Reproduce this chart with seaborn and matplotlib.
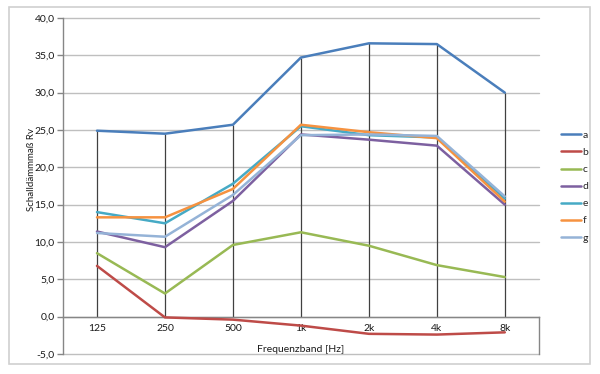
import pandas as pd
import matplotlib.pyplot as plt
import numpy as np
import seaborn as sns
from matplotlib.ticker import FuncFormatter, MultipleLocator
from matplotlib.patches import Rectangle

sns.set_theme(context="paper", style="white")
plt.rcParams['font.family'] = ['Lato', 'DejaVu Sans']

freq = ["125", "250", "500", "1k", "2k", "4k", "8k"]
series = ["a", "b", "c", "d", "e", "f", "g"]
a = [24.9, 24.5, 25.7, 34.7, 36.6, 36.5, 30.0]
b = [6.8, -0.1, -0.4, -1.2, -2.3, -2.4, -2.1]
c = [8.5, 3.1, 9.6, 11.3, 9.5, 6.9, 5.3]
d = [11.4, 9.3, 15.5, 24.4, 23.7, 22.9, 15.0]
e = [14.0, 12.5, 17.8, 25.5, 24.3, 24.0, 15.8]
f = [13.3, 13.3, 17.1, 25.7, 24.7, 23.9, 15.4]
g = [11.2, 10.7, 16.3, 24.3, 24.4, 24.2, 16.1]
colors = ["#4A7EBB", "#BE4B48", "#98B954", "#7D60A0", "#46AAC5", "#F69240", "#95B3D7"]

values = [a, b, c, d, e, f, g]
df = pd.DataFrame({
    "Frequenzband": freq * len(series),
    "Rv": np.concatenate(values),
    "Reihe": np.repeat(series, len(freq)),
})

fig = plt.figure(figsize=(6, 3.74), dpi=100)
ax = fig.add_axes([0.105, 0.0535, 0.793, 0.8985])

# drop lines from the top curve down to the 0 axis
ax.vlines(range(len(freq)), 0, np.max(values, axis=0), color="#404040", lw=0.9, zorder=1)

sns.lineplot(data=df, x="Frequenzband", y="Rv", hue="Reihe", palette=colors,
             sort=False, lw=1.8, ax=ax, zorder=3)

ax.set_xlim(-0.5, len(freq) - 0.5)
ax.set_ylim(-5, 40)
ax.yaxis.set_major_locator(MultipleLocator(5))
ax.yaxis.set_major_formatter(FuncFormatter(lambda v, p: f"{v:.1f}".replace(".", ",")))
ax.grid(axis="y", color="#BFBFBF", lw=1)
ax.set_axisbelow(True)
for gl in ax.get_ygridlines():
    gl.set_clip_on(False)

ax.spines["top"].set_visible(False)
ax.spines["bottom"].set_position(("data", 0))
ax.spines["right"].set_bounds(-5, 0)
for s in ["left", "bottom", "right"]:
    ax.spines[s].set_color("#868686")
    ax.spines[s].set_linewidth(1)

ax.tick_params(axis="x", length=0, pad=5, labelsize=7.5, labelcolor="#1a1a1a")
ax.tick_params(axis="y", length=4, width=1, color="#868686", direction="out", left=True,
               pad=2, labelsize=7.5, labelcolor="#1a1a1a")

ax.set_xlabel("Frequenzband [Hz]", fontsize=7.5, color="#1a1a1a")
ax.xaxis.set_label_coords(0.5, 0.028)
ax.set_ylabel("Schalldämmmaß Rv", fontsize=7, color="#1a1a1a")
ax.yaxis.set_label_coords(-0.057, 0.55)

ax.legend(loc="center left", bbox_to_anchor=(0.92, 0.501), bbox_transform=fig.transFigure,
          frameon=False, fontsize=7.5, handlelength=1.9, handletextpad=0.1,
          labelspacing=0.75, title=None)

fig.patches.append(Rectangle((0.015, 0.027), 0.968, 0.955, transform=fig.transFigure,
                             fill=False, edgecolor="#D0D0D0", lw=1.2))

plt.savefig("out.png", dpi=100)
